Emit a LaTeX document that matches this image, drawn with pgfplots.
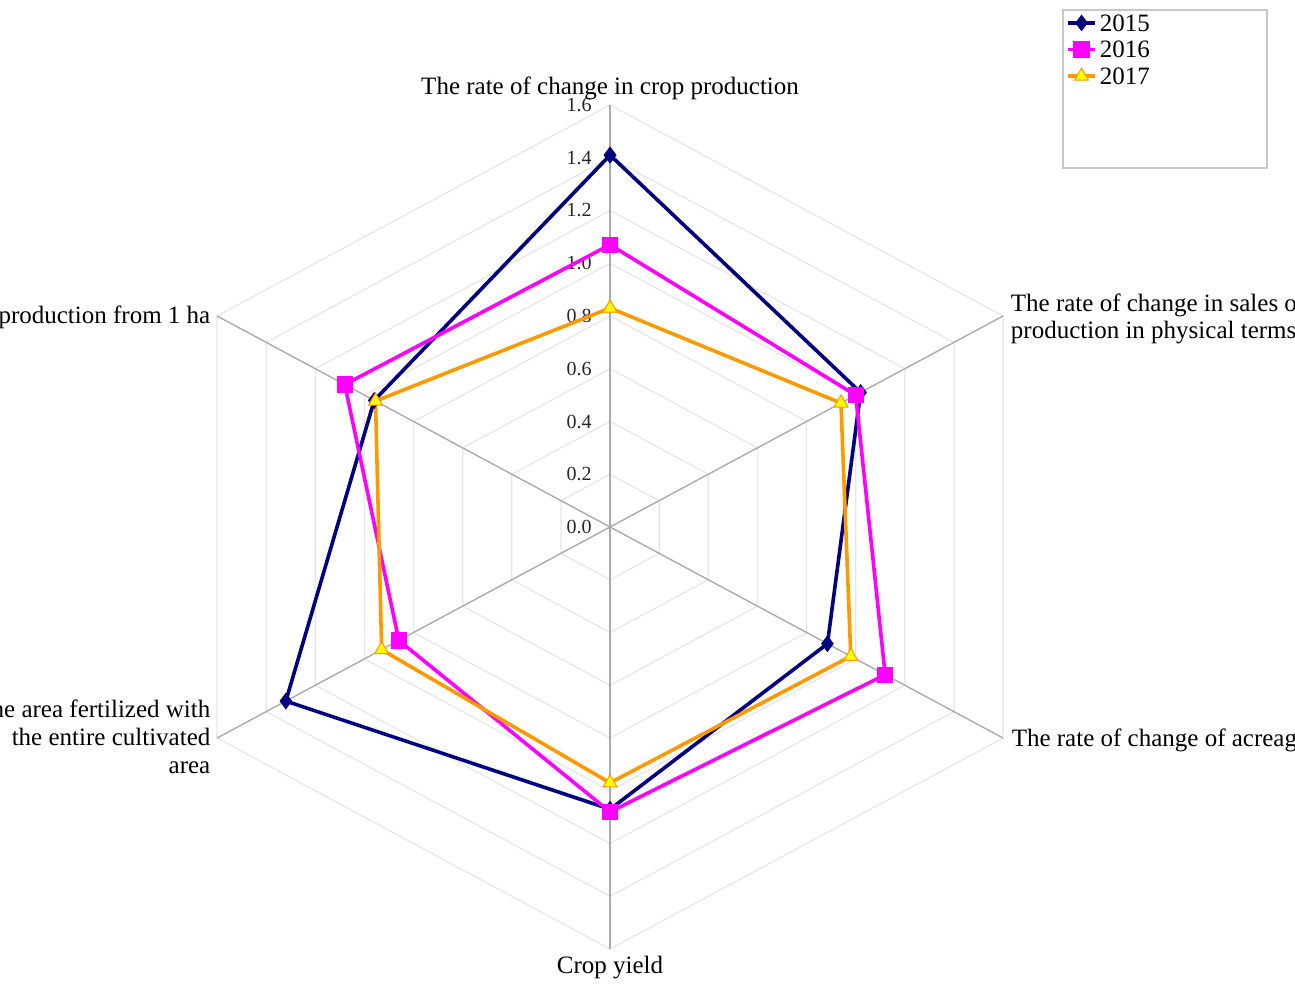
\documentclass[border=0pt]{standalone}
\usepackage{pgfplots}
\pgfplotsset{compat=1.18}
\usepackage{pgfplotstable}
\usepackage{fontspec}
\setmainfont{Liberation Serif}

\definecolor{cA}{HTML}{000080}
\definecolor{cB}{HTML}{FF00FF}
\definecolor{cC}{HTML}{FF9900}
\definecolor{cCfill}{HTML}{FFFF00}
\definecolor{gridc}{HTML}{E6E6E6}
\definecolor{spokec}{HTML}{ABABAB}
\definecolor{legc}{HTML}{C8C8C8}

\pgfplotstableread{
a d
90 1
30 1
-30 1
-90 1
-150 1
150 1
90 1
}\hexangles

\pgfplotstableread{
a r
90 1.41
30 1.02
-30 0.885
-90 1.07
-150 1.32
150 0.96
90 1.41
}\dataA

\pgfplotstableread{
a r
90 1.07
30 1.00
-30 1.12
-90 1.08
-150 0.86
150 1.08
90 1.07
}\dataB

\pgfplotstableread{
a r
90 0.83
30 0.94
-30 0.98
-90 0.97
-150 0.93
150 0.955
90 0.83
}\dataC

\newcommand{\lab}{\fontsize{12.5}{13.5}\selectfont}
\newcommand{\tck}{\fontsize{10}{11}\selectfont}

\begin{document}
\begin{tikzpicture}
\begin{axis}[
  x=141.8pt, y=131.875pt,
  xmin=-2.151, xmax=2.415, ymin=-1.7365, ymax=1.998,
  hide axis, clip=false,
  legend style={at={(axis cs:1.600,1.963)}, anchor=north west, draw=none, fill=none,
    font=\lab, inner sep=1pt, row sep=2pt, nodes={inner sep=1.5pt, text depth=0pt}},
  legend cell align=left,
  legend image code/.code={\draw[mark repeat=2,mark phase=2] plot coordinates {(0cm,0cm)(0.2375cm,0cm)(0.475cm,0cm)};},
]
% grid hexagons
\pgfplotsinvokeforeach{0.2,0.4,0.6,0.8,1.0,1.2,1.4,1.6}{
  \addplot[gridc, line width=0.6pt, forget plot] table[x expr={#1*cos(\thisrow{a})}, y expr={#1*sin(\thisrow{a})}] {\hexangles};
}
% spokes
\pgfplotsinvokeforeach{90,30,-30,-90,-150,150}{
  \addplot[spokec, line width=0.7pt, forget plot] coordinates {(0,0) ({1.6*cos(#1)},{1.6*sin(#1)})};
}
% tick labels
\node[anchor=east, font=\tck, text=black!85, inner sep=0pt] at (axis cs:-0.0635,0.0) {0.0};
\node[anchor=east, font=\tck, text=black!85, inner sep=0pt] at (axis cs:-0.0635,0.2) {0.2};
\node[anchor=east, font=\tck, text=black!85, inner sep=0pt] at (axis cs:-0.0635,0.4) {0.4};
\node[anchor=east, font=\tck, text=black!85, inner sep=0pt] at (axis cs:-0.0635,0.6) {0.6};
\node[anchor=east, font=\tck, text=black!85, inner sep=0pt] at (axis cs:-0.0635,0.8) {0.8};
\node[anchor=east, font=\tck, text=black!85, inner sep=0pt] at (axis cs:-0.0635,1.0) {1.0};
\node[anchor=east, font=\tck, text=black!85, inner sep=0pt] at (axis cs:-0.0635,1.2) {1.2};
\node[anchor=east, font=\tck, text=black!85, inner sep=0pt] at (axis cs:-0.0635,1.4) {1.4};
\node[anchor=east, font=\tck, text=black!85, inner sep=0pt] at (axis cs:-0.0635,1.6) {1.6};
% category labels
\node[anchor=base, font=\lab, inner sep=0pt] at (axis cs:0,1.638) {The rate of change in crop production};
\node[anchor=base west, font=\lab, inner sep=0pt] at (axis cs:1.412,0.817) {The rate of change in sales of};
\node[anchor=base west, font=\lab, inner sep=0pt] at (axis cs:1.412,0.713) {production in physical terms};
\node[anchor=base west, font=\lab, inner sep=0pt] at (axis cs:1.415,-0.834) {The rate of change of acreage};
\node[anchor=base, font=\lab, inner sep=0pt] at (axis cs:0,-1.691) {Crop yield};
\node[anchor=base east, font=\lab, inner sep=0pt] at (axis cs:-1.408,-0.724) {The share of the area fertilized with};
\node[anchor=base east, font=\lab, inner sep=0pt] at (axis cs:-1.408,-0.828) {the entire cultivated};
\node[anchor=base east, font=\lab, inner sep=0pt] at (axis cs:-1.408,-0.933) {area};
\node[anchor=base east, font=\lab, inner sep=0pt] at (axis cs:-1.408,0.773) {Crop production from 1 ha};
% data
\addplot[cA, line width=1.8pt, mark=diamond*, mark size=3.8pt, mark options={solid, fill=cA, line width=0.5pt}]
  table[x expr={\thisrow{r}*cos(\thisrow{a})}, y expr={\thisrow{r}*sin(\thisrow{a})}] {\dataA};
\addlegendentry{2015}
\addplot[cB, line width=1.8pt, mark=square*, mark size=3.8pt, mark options={solid, fill=cB, line width=0.5pt}]
  table[x expr={\thisrow{r}*cos(\thisrow{a})}, y expr={\thisrow{r}*sin(\thisrow{a})}] {\dataB};
\addlegendentry{2016}
\addplot[cC, line width=1.8pt, mark=triangle*, mark size=4pt, mark options={solid, fill=cCfill, draw=cC, line width=0.5pt}]
  table[x expr={\thisrow{r}*cos(\thisrow{a})}, y expr={\thisrow{r}*sin(\thisrow{a})}] {\dataC};
\addlegendentry{2017}
% legend box
\draw[legc, line width=1pt] (axis cs:1.597,1.960) rectangle (axis cs:2.317,1.361);
\end{axis}
\pgfresetboundingbox
\path[use as bounding box] (current axis.south west) rectangle (current axis.north east);
\end{tikzpicture}
\end{document}
